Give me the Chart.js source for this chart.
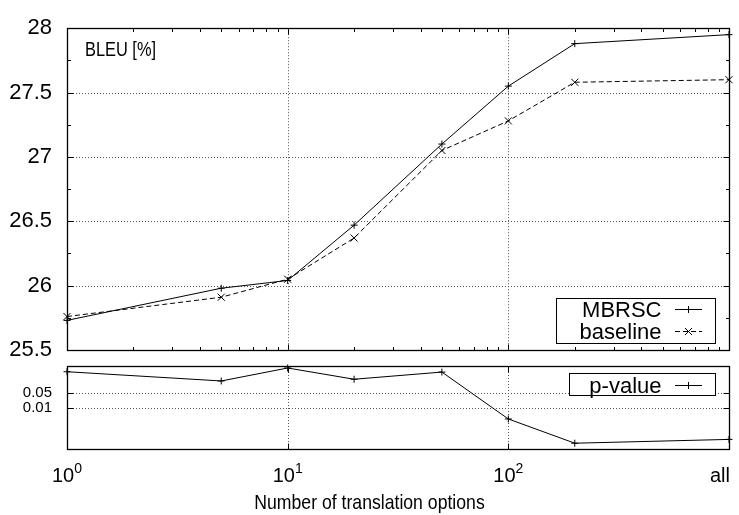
<!DOCTYPE html>
<html><head><meta charset="utf-8">
<script src="https://cdn.jsdelivr.net/npm/chart.js@4/dist/chart.umd.min.js"></script>
<style>
html,body{margin:0;padding:0;background:#fff;}
#wrap{position:relative;width:739px;height:515px;background:#fff;}
canvas{position:absolute;left:0;top:0;}
</style></head><body>
<div id="wrap"><canvas id="cTop" width="739" height="515"></canvas><canvas id="cBot" width="739" height="515"></canvas></div>
<script>
// ---- data ----
const xValues = [1, 5, 10, 20, 50, 100, 200, 1000]; // "all" sits at 10^3
const mbrsc    = [25.73, 25.98, 26.04, 26.47, 27.10, 27.55, 27.88, 27.95];
const baseline = [25.76, 25.91, 26.05, 26.37, 27.05, 27.28, 27.58, 27.60];
const pValue   = [0.53, 0.19, 0.80, 0.23, 0.51, 0.0028, 0.00019, 0.00029];
const bleuTicks = [25.5, 26, 26.5, 27, 27.5, 28];
const bleuTickLabels = ['25.5', '26', '26.5', '27', '27.5', '28'];
const bleuMinorTicks = [25.75, 26.25, 26.75, 27.25, 27.75];
const pTicks = [0.05, 0.01];
const pTickLabels = ['0.05', '0.01'];
const xTicks = [1, 10, 100, 1000];
const xTickLabels = ['10^0', '10^1', '10^2', 'all'];
const xMinorTicks = [2,3,4,5,6,7,8,9,20,30,40,50,60,70,80,90,200,300,400,500,600,700,800,900];
const seriesNames = ['MBRSC', 'baseline', 'p-value'];
const xTitle = 'Number of translation options';
const yTitle = 'BLEU [%]';

const FONT = '"Liberation Sans", Arimo, Arial, Helvetica, sans-serif';
const crisp = v => Math.round(v) + 0.5;

function drawMarker(ctx, style, x, y, r) {
  ctx.beginPath();
  if (style === 'cross') {
    ctx.moveTo(x - r, y); ctx.lineTo(x + r, y);
    ctx.moveTo(x, y - r); ctx.lineTo(x, y + r);
  } else {
    ctx.moveTo(x - r, y - r); ctx.lineTo(x + r, y + r);
    ctx.moveTo(x - r, y + r); ctx.lineTo(x + r, y - r);
  }
  ctx.stroke();
}
// text drawn slightly condensed horizontally, like the reference's Helvetica
function condensedText(ctx, text, x, y, size, sx, align) {
  ctx.save();
  ctx.font = size + 'px ' + FONT;
  ctx.textAlign = align; ctx.textBaseline = 'alphabetic';
  ctx.translate(x, y);
  ctx.scale(sx, 1);
  ctx.fillText(text, 0, 0);
  ctx.restore();
}

const gp = {
  id: 'gp',
  beforeDatasetsDraw(chart, args, o) {
    const {ctx, chartArea: a, scales: {x, y}} = chart;
    ctx.save();
    ctx.strokeStyle = '#555'; ctx.lineWidth = 1; ctx.setLineDash([1, 2]);
    ctx.beginPath();
    (o.gridX || []).forEach(v => { const px = crisp(x.getPixelForValue(v)); ctx.moveTo(px, a.top); ctx.lineTo(px, a.bottom); });
    (o.gridY || []).forEach(v => { const py = crisp(y.getPixelForValue(v)); ctx.moveTo(a.left, py); ctx.lineTo(a.right, py); });
    ctx.stroke();
    ctx.restore();
  },
  afterDatasetsDraw(chart, args, o) {
    const {ctx, chartArea: a, scales: {x, y}} = chart;
    const L = crisp(a.left), R = crisp(a.right), T = crisp(a.top), B = crisp(a.bottom);
    ctx.save();
    ctx.strokeStyle = '#000'; ctx.lineWidth = 1; ctx.setLineDash([]);
    ctx.beginPath();
    const xt = (vals, len) => vals.forEach(v => { const px = crisp(x.getPixelForValue(v));
      ctx.moveTo(px, B); ctx.lineTo(px, B - len); ctx.moveTo(px, T); ctx.lineTo(px, T + len); });
    const yt = (vals, len) => vals.forEach(v => { const py = crisp(y.getPixelForValue(v));
      ctx.moveTo(L, py); ctx.lineTo(L + len, py); ctx.moveTo(R, py); ctx.lineTo(R - len, py); });
    xt(o.xMajor || [], 6); xt(o.xMinor || [], 3.5);
    yt(o.yMajor || [], 6); yt(o.yMinor || [], 3.5);
    ctx.stroke();
    ctx.lineWidth = 1.3;
    ctx.strokeRect(L, T, R - L, B - T);
    if (o.legend) {
      const lg = o.legend;
      const bx1 = a.right - 14, bx0 = bx1 - lg.width;
      const by0 = lg.fromBottom ? a.bottom - 7.5 - lg.height : a.top + 7;
      ctx.fillStyle = '#fff';
      ctx.fillRect(bx0, by0, lg.width, lg.height);
      ctx.lineWidth = 1;
      ctx.strokeRect(crisp(bx0), crisp(by0), Math.round(lg.width), Math.round(lg.height));
      ctx.fillStyle = '#000';
      ctx.font = '22px ' + FONT;
      ctx.textAlign = 'right'; ctx.textBaseline = 'alphabetic';
      lg.rows.forEach((idx, k) => {
        const ds = chart.data.datasets[idx];
        const cy = by0 + 11.5 + k * 22;
        ctx.fillText(ds.label, bx1 - 53.5, cy + 8);
        ctx.save();
        ctx.lineWidth = 1;
        ctx.setLineDash(ds.borderDash || []);
        ctx.beginPath(); ctx.moveTo(bx1 - 40, crisp(cy)); ctx.lineTo(bx1 - 13, crisp(cy)); ctx.stroke();
        ctx.setLineDash([]);
        drawMarker(ctx, ds.pointStyle, bx1 - 26.5, crisp(cy), 3.5);
        ctx.restore();
      });
    }
    ctx.restore();
  },
  afterDraw(chart, args, o) {
    const {ctx, chartArea: a, scales: {x}} = chart;
    ctx.save();
    ctx.fillStyle = '#000';
    if (o.yTitle) condensedText(ctx, o.yTitle, a.left + 18, a.top + 28, 21, 0.78, 'left');
    if (o.xLabels) {
      xTicks.forEach((v, i) => {
        const px = x.getPixelForValue(v);
        const parts = xTickLabels[i].split('^');
        ctx.textBaseline = 'alphabetic'; ctx.textAlign = 'left';
        ctx.font = '20px ' + FONT;
        const w0 = ctx.measureText(parts[0]).width;
        let w1 = 0;
        if (parts[1]) { ctx.font = '14px ' + FONT; w1 = ctx.measureText(parts[1]).width; }
        let x0 = px - (w0 + w1) / 2;
        if (i === xTicks.length - 1) x0 = px + 1 - w0;
        ctx.font = '20px ' + FONT;
        ctx.fillText(parts[0], x0, a.bottom + 33);
        if (parts[1]) { ctx.font = '14px ' + FONT; ctx.fillText(parts[1], x0 + w0, a.bottom + 24); }
      });
    }
    if (o.xTitle) condensedText(ctx, o.xTitle, chart.width / 2, a.bottom + 60, 21, 0.84, 'center');
    ctx.restore();
  }
};

const xScale = { type: 'logarithmic', min: 1, max: 1000, display: false };
const common = {
  responsive: false, animation: false, devicePixelRatio: 1,
  elements: { line: { tension: 0 } }
};
const pts = vals => vals.map((v, i) => ({x: xValues[i], y: v}));

new Chart(document.getElementById('cTop'), {
  type: 'line',
  data: { datasets: [
    { label: seriesNames[0], data: pts(mbrsc), borderColor: '#000', borderWidth: 1, fill: false,
      pointStyle: 'cross', pointRadius: 3.5, pointBorderColor: '#000', pointBorderWidth: 1, clip: false },
    { label: seriesNames[1], data: pts(baseline), borderColor: '#000', borderWidth: 1, borderDash: [5, 3], fill: false,
      pointStyle: 'crossRot', pointRadius: 5, pointBorderColor: '#000', pointBorderWidth: 1, clip: false }
  ]},
  options: Object.assign({}, common, {
    layout: { padding: { top: 15, right: 10, bottom: 165, left: 0 } },
    scales: {
      x: xScale,
      y: { type: 'linear', min: 25.5, max: 28,
        afterFit(s) { s.width = 67; },
        afterBuildTicks(s) { s.ticks = bleuTicks.map(v => ({value: v})); },
        ticks: { autoSkip: false, padding: 15, color: '#000', font: { family: FONT, size: 22 },
          callback: (v, i) => bleuTickLabels[i] },
        grid: { display: false, drawTicks: false }, border: { display: false } }
    },
    plugins: { legend: { display: false }, tooltip: { enabled: false },
      gp: { gridX: [10, 100], gridY: [26, 26.5, 27, 27.5], xMajor: [10, 100], xMinor: xMinorTicks,
            yMajor: bleuTicks, yMinor: bleuMinorTicks, yTitle: yTitle,
            legend: { width: 159, height: 45, fromBottom: true, rows: [0, 1] } } }
  }),
  plugins: [gp]
});

new Chart(document.getElementById('cBot'), {
  type: 'line',
  data: { datasets: [
    { label: seriesNames[2], data: pts(pValue), borderColor: '#000', borderWidth: 1, fill: false,
      pointStyle: 'cross', pointRadius: 3.5, pointBorderColor: '#000', pointBorderWidth: 1, clip: false }
  ]},
  options: Object.assign({}, common, {
    layout: { padding: { top: 366, right: 10, bottom: 66, left: 0 } },
    scales: {
      x: xScale,
      y: { type: 'logarithmic', min: 0.0001, max: 1,
        afterFit(s) { s.width = 67; },
        afterBuildTicks(s) { s.ticks = pTicks.map(v => ({value: v})); },
        ticks: { autoSkip: false, padding: 15, color: '#000', font: { family: FONT, size: 15 },
          callback: (v, i) => pTickLabels[i] },
        grid: { display: false, drawTicks: false }, border: { display: false } }
    },
    plugins: { legend: { display: false }, tooltip: { enabled: false },
      gp: { gridX: [10, 100], gridY: pTicks, xMajor: [10, 100], yMajor: pTicks,
            xLabels: true, xTitle: xTitle,
            legend: { width: 146, height: 22, fromBottom: false, rows: [0] } } }
  }),
  plugins: [gp]
});
</script>
</body></html>
